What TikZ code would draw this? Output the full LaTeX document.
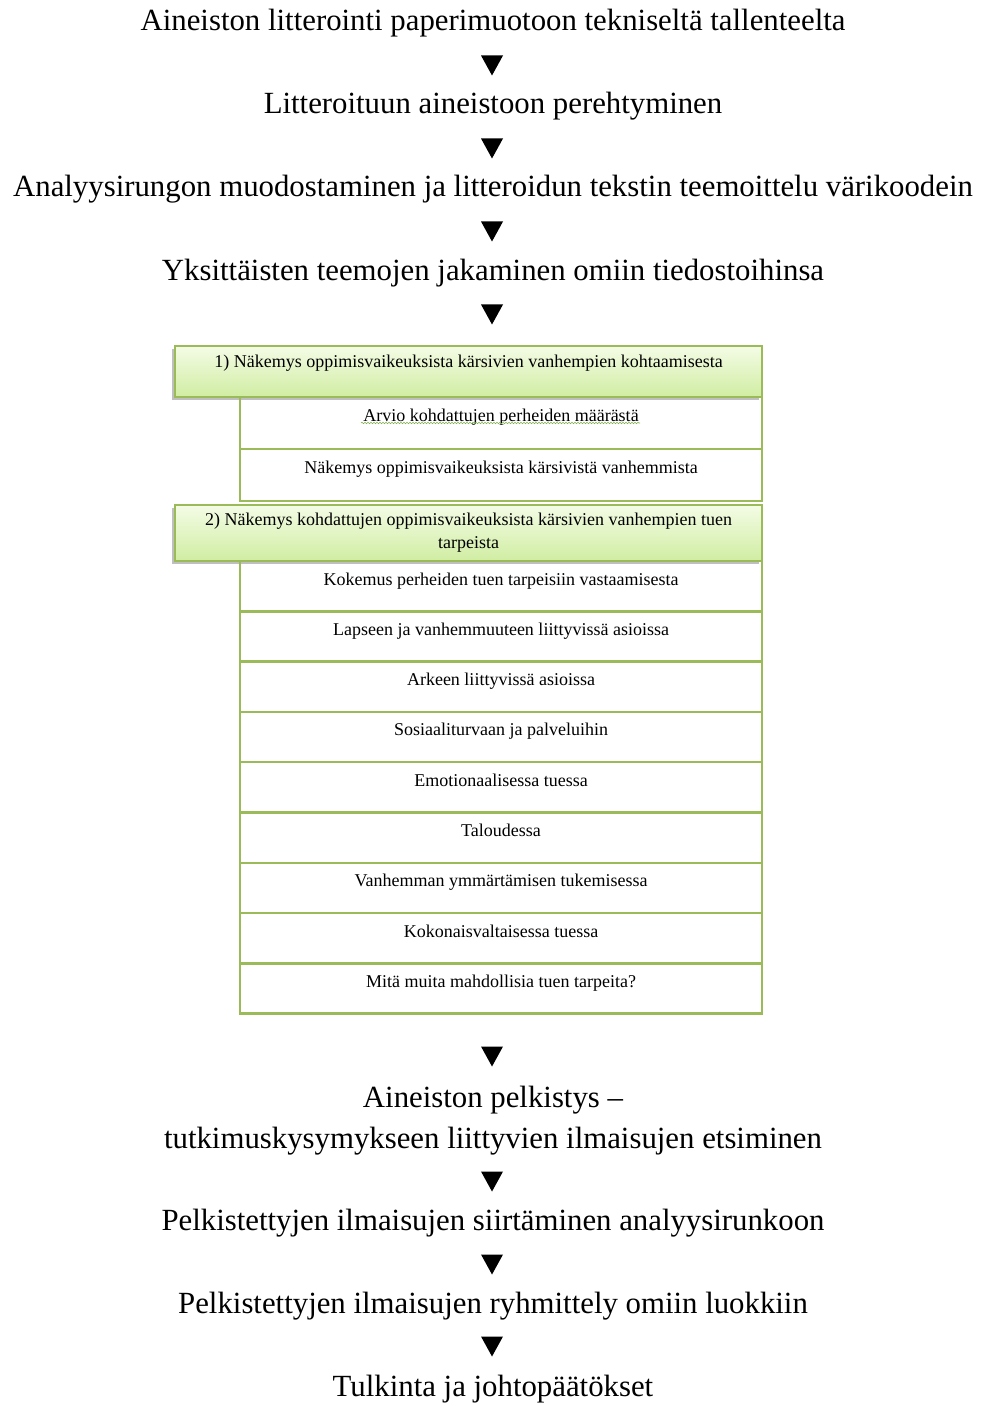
\documentclass[tikz,border=0pt]{standalone}
\usepackage{fontspec}
\setmainfont{Liberation Serif}
\usepackage{xcolor}
\usepackage{tikz}
\usetikzlibrary{
    shapes.geometric,
    positioning,
    shadows,
    calc,
    decorations.pathmorphing
}
\definecolor{olivegreen}{HTML}{9BBB59}
\definecolor{palegreen}{HTML}{F4FCE6}
\definecolor{leafgreen}{HTML}{D0EDA2}
\definecolor{spellgreen}{HTML}{7FB04F}
\tikzset{
  phase/.style = {
      font=\fontsize{30.8}{41}\selectfont,
      align=center,
      inner sep=0pt,
      anchor=base
  },
  pointer/.style = {
      isosceles triangle,
      isosceles triangle stretches,
      shape border rotate=-90,
      fill=black,
      minimum width=22pt,
      minimum height=20pt,
      inner sep=0pt
  },
  theme/.style = {
      draw=olivegreen,
      line width=2.5pt,
      top color=palegreen,
      bottom color=leafgreen,
      drop shadow={shadow xshift=-3pt, shadow yshift=-3pt,
                   fill=black!50, opacity=0.5},
      font=\fontsize{18}{23}\selectfont,
      align=center,
      minimum width=587pt,
      inner sep=0pt,
      outer sep=0pt
  },
  subtheme/.style = {
      draw=olivegreen,
      line width=2.5pt,
      font=\fontsize{18}{23}\selectfont,
      minimum width=522pt,
      text height=24pt,
      text depth=26.3pt,
      inner sep=0pt,
      outer sep=0pt
  },
  spellmark/.style = {
      draw=spellgreen,
      line width=0.6pt,
      decorate,
      decoration={snake, amplitude=0.7pt, segment length=3pt}
  }
}

\begin{document}
\begin{tikzpicture}[x=1pt, y=-1pt, node distance=0pt]
    \useasboundingbox (0,0) rectangle (984,1404);
    % Steps before the themes
    \node[phase] (s1) at (493,31) {Aineiston litterointi paperimuotoon tekniseltä tallenteelta};
    \node[pointer] (p1) at (492,62) {};
    \node[phase] (s2) at (493,114) {Litteroituun aineistoon perehtyminen};
    \node[pointer] (p2) at (492,145) {};
    \node[phase] (s3) at (493,197) {Analyysirungon muodostaminen ja litteroidun tekstin teemoittelu värikoodein};
    \node[pointer] (p3) at (492,228) {};
    \node[phase] (s4) at (493,280) {Yksittäisten teemojen jakaminen omiin tiedostoihinsa};
    \node[pointer] (p4) at (492,311) {};
    % Theme 1
    \node[theme, anchor=north, text height=21.5pt, text depth=29.5pt] (g1) at (468.5,346)
        {1) Näkemys oppimisvaikeuksista kärsivien vanhempien kohtaamisesta};
    \node[subtheme, below=of g1.south east, anchor=north east, text depth=28pt] (a1)
        {Arvio kohdattujen perheiden määrästä};
    \node[subtheme, below=of a1, text depth=28pt] (a2)
        {Näkemys oppimisvaikeuksista kärsivistä vanhemmista};
    \draw[spellmark] ($(a1.north)+(-140,26)$) -- ++(279,0);
    % Theme 2
    \node[theme, below=4pt of a2.south east, anchor=north east, minimum height=56pt] (g2)
        {2) Näkemys kohdattujen oppimisvaikeuksista kärsivien vanhempien tuen\\tarpeista};
    \node[subtheme, below=of g2.south east, anchor=north east] (b1)
        {Kokemus perheiden tuen tarpeisiin vastaamisesta};
    \node[subtheme, below=of b1] (b2) {Lapseen ja vanhemmuuteen liittyvissä asioissa};
    \node[subtheme, below=of b2] (b3) {Arkeen liittyvissä asioissa};
    \node[subtheme, below=of b3] (b4) {Sosiaaliturvaan ja palveluihin};
    \node[subtheme, below=of b4] (b5) {Emotionaalisessa tuessa};
    \node[subtheme, below=of b5] (b6) {Taloudessa};
    \node[subtheme, below=of b6] (b7) {Vanhemman ymmärtämisen tukemisessa};
    \node[subtheme, below=of b7] (b8) {Kokonaisvaltaisessa tuessa};
    \node[subtheme, below=of b8] (b9) {Mitä muita mahdollisia tuen tarpeita?};
    % Steps after the themes
    \node[pointer] (p5) at (492,1053) {};
    \node[phase, anchor=center] (s5) at (493,1121)
        {Aineiston pelkistys --\\tutkimuskysymykseen liittyvien ilmaisujen etsiminen};
    \node[pointer] (p6) at (492,1178) {};
    \node[phase] (s6) at (493,1230) {Pelkistettyjen ilmaisujen siirtäminen analyysirunkoon};
    \node[pointer] (p7) at (492,1261) {};
    \node[phase] (s7) at (493,1313) {Pelkistettyjen ilmaisujen ryhmittely omiin luokkiin};
    \node[pointer] (p8) at (492,1343) {};
    \node[phase] (s8) at (493,1396) {Tulkinta ja johtopäätökset};
\end{tikzpicture}
\end{document}
